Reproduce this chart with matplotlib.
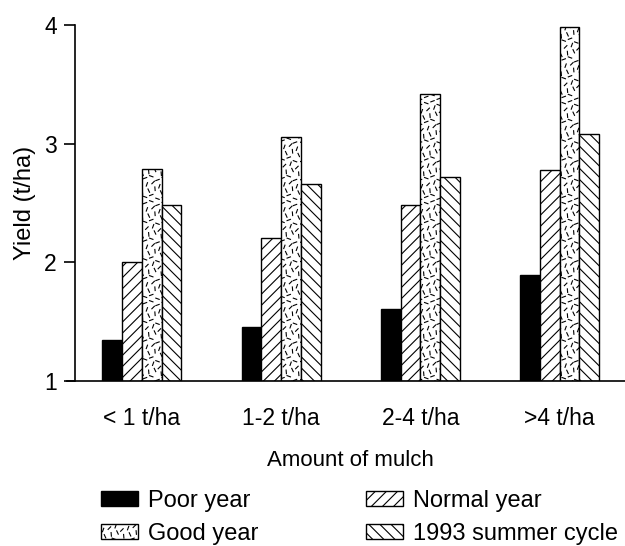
import numpy as np
import matplotlib
matplotlib.use("Agg")
import matplotlib.pyplot as plt
import matplotlib.hatch as mhatch
from matplotlib.path import Path

categories = ["< 1 t/ha", "1-2 t/ha", "2-4 t/ha", ">4 t/ha"]
series = ["Poor year", "Normal year", "Good year", "1993 summer cycle"]
poor = [1.35, 1.46, 1.61, 1.89]
normal = [2.00, 2.21, 2.48, 2.78]
good = [2.79, 3.06, 3.42, 3.98]
cycle_1993 = [2.48, 2.66, 2.72, 3.08]


# short scattered dashes for the "good year" fill, hooked on the 'O' hatch
class DashTexture(mhatch.HatchPatternBase):
    def __init__(self, hatch, density):
        self.on = hatch.count("O") > 0
        n = 16
        segs = []
        for i in range(n):
            for j in range(n):
                cx = (i + 0.5 + 0.3 * ((j * 5) % 3 - 1)) / n
                cy = (j + 0.5 + 0.3 * ((i * 7) % 3 - 1)) / n
                ang = np.deg2rad([20, 70, 115, 160, 45, 95][(i * 3 + j * 5) % 6])
                h = 0.018
                dx, dy = h * np.cos(ang), h * np.sin(ang)
                segs.append([cx - dx, cy - dy, cx + dx, cy + dy])
        self.segs = np.array(segs)
        self.num_vertices = len(self.segs) * 2 if self.on else 0

    def set_vertices_and_codes(self, vertices, codes):
        vertices[:] = self.segs.reshape(-1, 2)
        codes[0::2] = Path.MOVETO
        codes[1::2] = Path.LINETO


mhatch._hatch_types = [DashTexture if t is mhatch.LargeCircles else t
                       for t in mhatch._hatch_types]

plt.rcParams["font.family"] = ["Liberation Sans", "DejaVu Sans"]
plt.rcParams["hatch.linewidth"] = 0.8

fig = plt.figure(figsize=(6.25, 5.46), dpi=100)
ax = fig.add_axes([0.12, 0.302, 0.88, 0.652])

x = np.arange(len(categories))
w = 0.142
styles = [
    dict(color="black", edgecolor="black"),
    dict(facecolor="white", edgecolor="black", hatch="///"),
    dict(facecolor="white", edgecolor="black", hatch="O"),
    dict(facecolor="white", edgecolor="black", hatch="\\\\\\"),
]
base = 1.0
for i, (vals, name) in enumerate(zip([poor, normal, good, cycle_1993], series)):
    vals = np.array(vals)
    ax.bar(x + (i - 1.5) * w, vals - base, w, bottom=base, label=name,
           linewidth=1.0, **styles[i])

ax.set_ylim(1, 4)
ax.set_xlim(-0.48, 3.47)
ax.set_yticks([1, 2, 3, 4])
ax.set_xticks(x)
ax.set_xticklabels(categories, fontsize=16.5)
ax.tick_params(axis="y", labelsize=16.5, length=8, width=1.2, pad=5)
ax.tick_params(axis="x", length=0, pad=19)
ax.spines["top"].set_visible(False)
ax.spines["right"].set_visible(False)
ax.spines["left"].set_linewidth(1.2)
ax.spines["bottom"].set_linewidth(1.2)
ax.spines["bottom"].set_bounds(-0.54, 3.47)
ax.set_ylabel("Yield (t/ha)", fontsize=17, labelpad=6)
ax.set_xlabel("Amount of mulch", fontsize=16, labelpad=14)

handles, labels = ax.get_legend_handles_labels()
order = [0, 2, 1, 3]
fig.legend([handles[k] for k in order], [labels[k] for k in order],
           ncol=2, frameon=False, fontsize=17, loc="upper left",
           bbox_to_anchor=(0.127, 0.142), handlelength=1.6,
           handleheight=0.6, columnspacing=4.55, labelspacing=0.47,
           handletextpad=0.4)

fig.savefig("out.png", dpi=100)
